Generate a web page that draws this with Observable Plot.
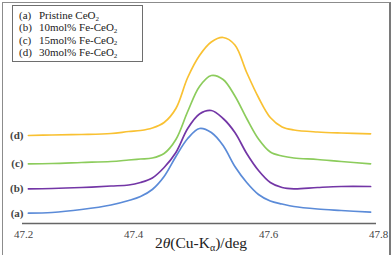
<!DOCTYPE html>
<html><head><meta charset="utf-8">
<script src="https://cdn.jsdelivr.net/npm/d3@7"></script>
<script src="https://cdn.jsdelivr.net/npm/@observablehq/plot@0.6"></script>
<style>
body{margin:0;background:#fff;}
#wrap{position:relative;width:392px;height:255px;overflow:hidden;background:#fff;}
#frame{position:absolute;left:2px;top:2px;width:386px;height:300px;border-left:1.5px solid #8c8c8c;border-top:1.5px solid #8c8c8c;border-right:2px solid #7a7a7a;}
#chart{position:absolute;left:0;top:0;}
#legend{position:absolute;left:12px;top:5px;width:123px;height:52px;padding:3px 0 0 6px;border:1.5px solid #6e6e6e;font-family:"Liberation Serif","Times New Roman",Times,serif;font-size:11px;color:#222;background:#fff;}
#legend div{height:12.4px;line-height:12.4px;white-space:nowrap;}
#legend .k{display:inline-block;width:20px;}
#legend sub{font-size:7px;position:relative;top:1.5px;vertical-align:baseline;line-height:0;}
</style></head><body><div id="wrap"><div id="frame"></div><div id="chart"></div><div id="legend"></div></div>
<script>
// 2θ positions (deg)
const xs = [47.21,47.25,47.30,47.35,47.38,47.40,47.42,47.44,47.46,47.48,47.50,47.52,47.54,47.56,47.58,47.60,47.62,47.64,47.66,47.70,47.74,47.79];
// intensities (a.u., stacked offsets as plotted)
const seriesA = [10.3,11,14,18.5,23,27,34,47,67,85,95,91,78,57,41,29,22.5,19.5,17,14.5,13,11.3];
const seriesB = [34.7,35,36,37.5,38.5,41,45.5,56,71,95,109.5,113,105,91,70,53,41,36,34.7,36,37,37];
const seriesC = [59.7,60,61,62,63.5,64.5,65.5,70,84,112,137,148,144,127.5,105,84.5,71.5,67.5,65.5,64,62,59.7];
const seriesD = [88,88.5,89,90,92,93,95.5,101,115,146,168,181.5,186,178.5,151,126,106,96.5,93.5,91.5,90.5,89.7];
const seriesKeys = ["a","b","c","d"];
const sampleNames = ["Pristine CeO2","10mol% Fe-CeO2","15mol% Fe-CeO2","30mol% Fe-CeO2"];
const xTicks = [47.2,47.4,47.6,47.8];

const serif = "'Liberation Serif','Times New Roman',Times,serif";
const colors = ["#5b8bd8","#7336a6","#8ccc5c","#f9c132"];
const all = [seriesA,seriesB,seriesC,seriesD];
const rows = [];
all.forEach((vals,i)=>vals.forEach((v,j)=>rows.push({x:xs[j],y:v,s:seriesKeys[i]})));
const starts = seriesKeys.map((k,i)=>({k, y:all[i][0]}));
const tickShift = [1,-7,10,2];

const plot = Plot.plot({
  width:392,height:255,marginLeft:22,marginRight:16,marginTop:23,marginBottom:32,
  x:{domain:[47.2,47.8],axis:null},
  y:{domain:[0,200],axis:null},
  color:{domain:seriesKeys,range:colors},
  style:{background:"transparent",fontFamily:serif},
  marks:[
    Plot.ruleY([0],{stroke:"#666",strokeWidth:1.6}),
    Plot.line(rows,{x:"x",y:"y",z:"s",stroke:"s",strokeWidth:1.7,curve:"catmull-rom"}),
    Plot.text(starts,{x:()=>47.2,y:"y",text:d=>`(${d.k})`,textAnchor:"end",dx:1,fontSize:11,fontWeight:"bold",fill:"#444",fontFamily:serif}),
    ...xTicks.map((t,i)=>Plot.text([t],{x:d=>d,y:()=>0,text:d=>d.toFixed(1),dy:11,dx:tickShift[i],fontSize:11,fill:"#444",lineAnchor:"middle",fontFamily:serif}))
  ]
});
document.getElementById("chart").appendChild(plot);
const svg = d3.select(plot);
const lab = svg.append("text").attr("x",201).attr("y",248).attr("text-anchor","middle")
  .style("font-family",serif).style("font-size","15.5px").attr("fill","#222");
lab.append("tspan").text("2");
lab.append("tspan").attr("font-style","italic").text("θ");
lab.append("tspan").text("(Cu-K");
lab.append("tspan").attr("font-size","10px").attr("dy",3).text("α");
lab.append("tspan").attr("dy",-3).text(")/deg");

const leg = d3.select("#legend");
sampleNames.forEach((n,i)=>{
  const row = leg.append("div");
  row.append("span").attr("class","k").text(`(${seriesKeys[i]})`);
  row.append("span").text(n.slice(0,-1));
  row.append("sub").text(n.slice(-1));
});
</script></body></html>
